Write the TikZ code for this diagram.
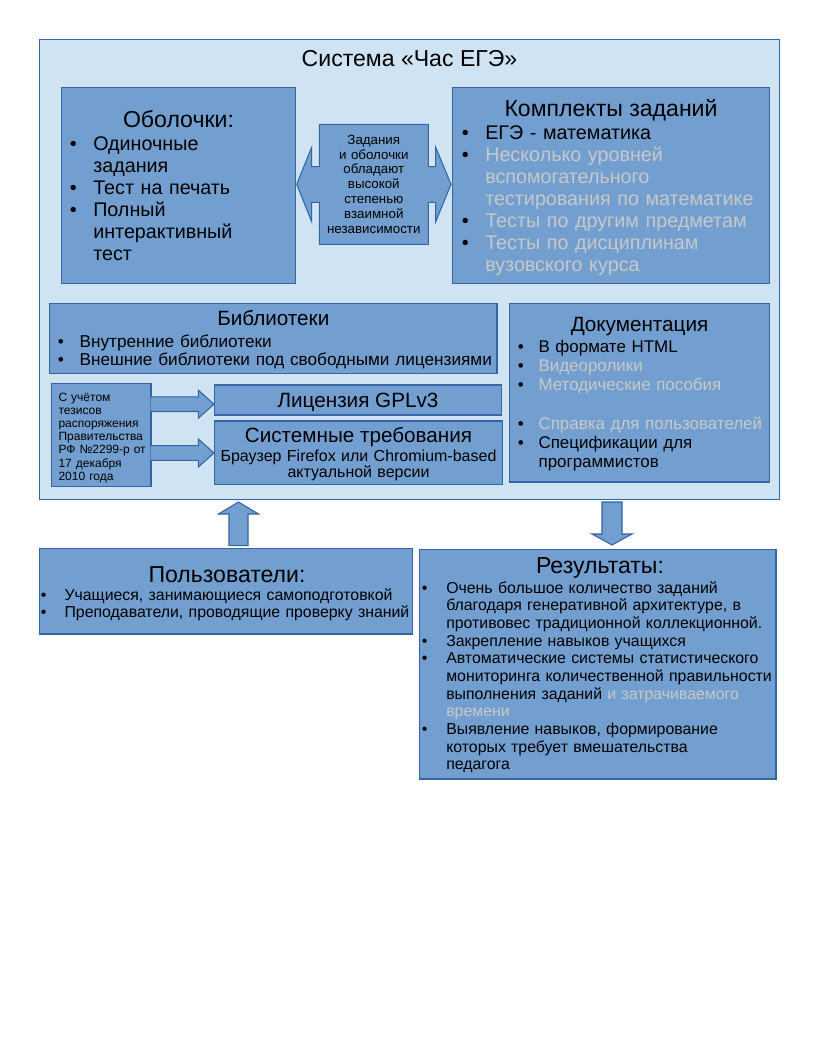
\documentclass[tikz,border=0pt]{standalone}
\usepackage{fontspec}
\setmainfont{Liberation Sans}
\usetikzlibrary{fit}

\definecolor{panelfill}{HTML}{CFE3F2}
\definecolor{boxfill}{HTML}{729FCF}
\definecolor{edge}{HTML}{3465A4}
\definecolor{dim}{HTML}{C8C8C8}

% one drawing unit = one pixel of a 816 x 1056 sheet
\newdimen\pxu \pxu=0.75pt
\newcommand\fsz[2]{\fontsize{#1}{#2}\selectfont}
\newcommand\bul[1]{\makebox[#1\pxu][l]{•}}
\newcommand\ind[1]{\hspace*{#1\pxu}}

\begin{document}
\begin{tikzpicture}[x=0.75pt,y=-0.75pt,
  panel/.style={draw=edge, fill=panelfill, line width=0.8pt, inner sep=0pt},
  bluebox/.style={draw=edge, fill=boxfill, line width=0.8pt, inner sep=0pt},
  arrowfill/.style={fill=boxfill},
  arrowedge/.style={draw=edge, line width=0.8pt, line join=miter},
  heading/.style={anchor=base, inner sep=0pt},
  itemlist/.style={anchor=base west, inner sep=0pt, align=left, text width=#1\pxu},
  centered/.style={anchor=base, inner sep=0pt, align=center, text width=#1\pxu},
]
\fill[white] (0,0) rectangle (816,1056);
\useasboundingbox (0,0) rectangle (816,1056);

% ---------- system panel ----------
\node[panel, fit={(39.5,39.5) (779.5,499.5)}] (sys) {};
\node[heading, font={\fsz{17.3}{20}}] (systitle) at (409.5,66) {Система «Час ЕГЭ»};

% shells
\node[bluebox, fit={(61.5,87.5) (295.5,283.5)}] (shells) {};
\node[heading, font={\fsz{17.3}{20}}] (shellstitle) at (178.5,127.5) {Оболочки:};
\node[itemlist=220, font={\fsz{14.8}{16.6}}] (shellslist) at (69.5,150)
  {\bul{23.5}Одиночные\\
   \ind{23.5}задания\\
   \bul{23.5}Тест на печать\\
   \bul{23.5}Полный\\
   \ind{23.5}интерактивный\\
   \ind{23.5}тест};

% task sets
\node[bluebox, fit={(452.5,87.5) (769.5,283.5)}] (sets) {};
\node[heading, font={\fsz{17.3}{20}}] (setstitle) at (611,116) {Комплекты заданий};
\node[itemlist=300, font={\fsz{14.8}{16.6}}] (setslist) at (461.5,139)
  {\bul{23.5}ЕГЭ - математика\\
   \bul{23.5}\textcolor{dim}{Несколько уровней}\\
   \ind{23.5}\textcolor{dim}{вспомогательного}\\
   \ind{23.5}\textcolor{dim}{тестирования по математике}\\
   \bul{23.5}\textcolor{dim}{Тесты по другим предметам}\\
   \bul{23.5}\textcolor{dim}{Тесты по дисциплинам}\\
   \ind{23.5}\textcolor{dim}{вузовского курса}};

% double-headed callout between shells and task sets
\filldraw[fill=boxfill, draw=edge, line width=0.8pt, line join=miter]
  (319.3,124.3) -- (428.3,124.3) -- (428.3,166.7) -- (435.7,166.7) -- (435.7,147.3)
  -- (451,184.3) -- (435.7,221.7) -- (435.7,202.3) -- (428.3,202.3) -- (428.3,244.3)
  -- (319.3,244.3) -- (319.3,202.3) -- (311.7,202.3) -- (311.7,221.7) -- (296.7,184.3)
  -- (311.7,147.3) -- (311.7,166.7) -- (319.3,166.7) -- cycle;
\node[centered=110, font={\fsz{10}{11.1}}] (indep) at (373.8,144.3)
  {Задания\\ и оболочки\\ обладают\\ высокой\\ степенью\\ взаимной\\ независимости};

% libraries
\node[bluebox, fit={(49.5,303.5) (497,373.5)}] (libs) {};
\node[heading, font={\fsz{15.5}{18}}] (libstitle) at (273.3,325.7) {Библиотеки};
\node[itemlist=440, font={\fsz{12.9}{13.3}}] (libslist) at (57.6,347.3)
  {\bul{21.7}Внутренние библиотеки\\
   \bul{21.7}Внешние библиотеки под свободными лицензиями};

% government decree note
\node[bluebox, fit={(51.5,383.5) (151,486.5)}] (decree) {};
\node[itemlist=95, font={\fsz{9}{9.9}}] (decreetext) at (58.3,401)
  {С учётом\\ тезисов\\ распоряжения\\ Правительства\\ РФ №2299-р от\\ 17 декабря\\ 2010 года};

% licence
\node[bluebox, fit={(214.5,385) (501.5,415)}] (gpl) {};
\node[heading, font={\fsz{15.5}{18}}] (gpltext) at (358,407.3) {Лицензия GPLv3};

% system requirements
\node[bluebox, fit={(214.5,421) (502.5,484.5)}] (req) {};
\node[heading, font={\fsz{15.5}{18}}] (reqtitle) at (358.5,442.7) {Системные требования};
\node[centered=285, font={\fsz{12}{12}}] (reqtext) at (358.5,461.7)
  {Браузер Firefox или Chromium-based\\ актуальной версии};

% arrows from the note to licence and requirements
\fill[arrowfill] (150.5,396.9) -- (198.3,396.9) -- (198.3,390.2) -- (214,404.2)
  -- (198.3,418.2) -- (198.3,411.5) -- (150.5,411.5) -- cycle;
\draw[arrowedge] (151,396.9) -- (198.3,396.9) -- (198.3,390.2) -- (214,404.2)
  -- (198.3,418.2) -- (198.3,411.5) -- (151,411.5);
\fill[arrowfill] (150.5,445.7) -- (198.3,445.7) -- (198.3,439) -- (214,453)
  -- (198.3,467) -- (198.3,460.3) -- (150.5,460.3) -- cycle;
\draw[arrowedge] (151,445.7) -- (198.3,445.7) -- (198.3,439) -- (214,453)
  -- (198.3,467) -- (198.3,460.3) -- (151,460.3);

% documentation
\node[bluebox, fit={(509.5,303.5) (769.5,482)}] (docs) {};
\node[heading, font={\fsz{15.5}{18}}] (docstitle) at (639.5,331.7) {Документация};
\node[itemlist=255, font={\fsz{12.7}{14.4}}] (docslist) at (517.7,352.3)
  {\bul{20.6}В формате HTML\\
   \bul{20.6}\textcolor{dim}{Видеоролики}\\
   \bul{20.6}\textcolor{dim}{Методические пособия}\\
   \mbox{}\\
   \bul{20.6}\textcolor{dim}{Справка для пользователей}\\
   \bul{20.6}Спецификации для\\
   \ind{20.6}программистов};

% ---------- users ----------
\node[bluebox, fit={(39.5,548.5) (412.5,634)}] (users) {};
\node[heading, font={\fsz{17.3}{20}}] (userstitle) at (227,582.3) {Пользователи:};
\node[itemlist=420, font={\fsz{11.9}{12.4}}] (userslist) at (40.5,600.5)
  {\bul{23.8}Учащиеся, занимающиеся самоподготовкой\\
   \bul{23.8}Преподаватели, проводящие проверку знаний};

% users feed the system
\filldraw[fill=boxfill, draw=edge, line width=0.8pt, line join=miter]
  (229,545.7) -- (229,514) -- (218.5,514) -- (238.5,502) -- (258.5,514)
  -- (248,514) -- (248,545.7) -- cycle;

% ---------- results ----------
\node[bluebox, fit={(419.5,549.5) (776,779)}] (results) {};
\node[heading, font={\fsz{17.3}{20}}] (resultstitle) at (600,573.3) {Результаты:};
\node[itemlist=420, font={\fsz{11.9}{13.25}}] (resultslist) at (421.5,593.3)
  {\bul{24.5}Очень большое количество заданий\\
   \ind{24.5}благодаря генеративной архитектуре, в\\
   \ind{24.5}противовес традиционной коллекционной.\\
   \bul{24.5}Закрепление навыков учащихся\\
   \bul{24.5}Автоматические системы статистического\\
   \ind{24.5}мониторинга количественной правильности\\
   \ind{24.5}выполнения заданий \textcolor{dim}{и затрачиваемого}\\
   \ind{24.5}\textcolor{dim}{времени}\\
   \bul{24.5}Выявление навыков, формирование\\
   \ind{24.5}которых требует вмешательства\\
   \ind{24.5}педагога};

% the system produces results
\filldraw[fill=boxfill, draw=edge, line width=0.8pt, line join=miter]
  (602,502) -- (622,502) -- (622,534) -- (632,534) -- (612,545)
  -- (592,534) -- (602,534) -- cycle;
\end{tikzpicture}
\end{document}
